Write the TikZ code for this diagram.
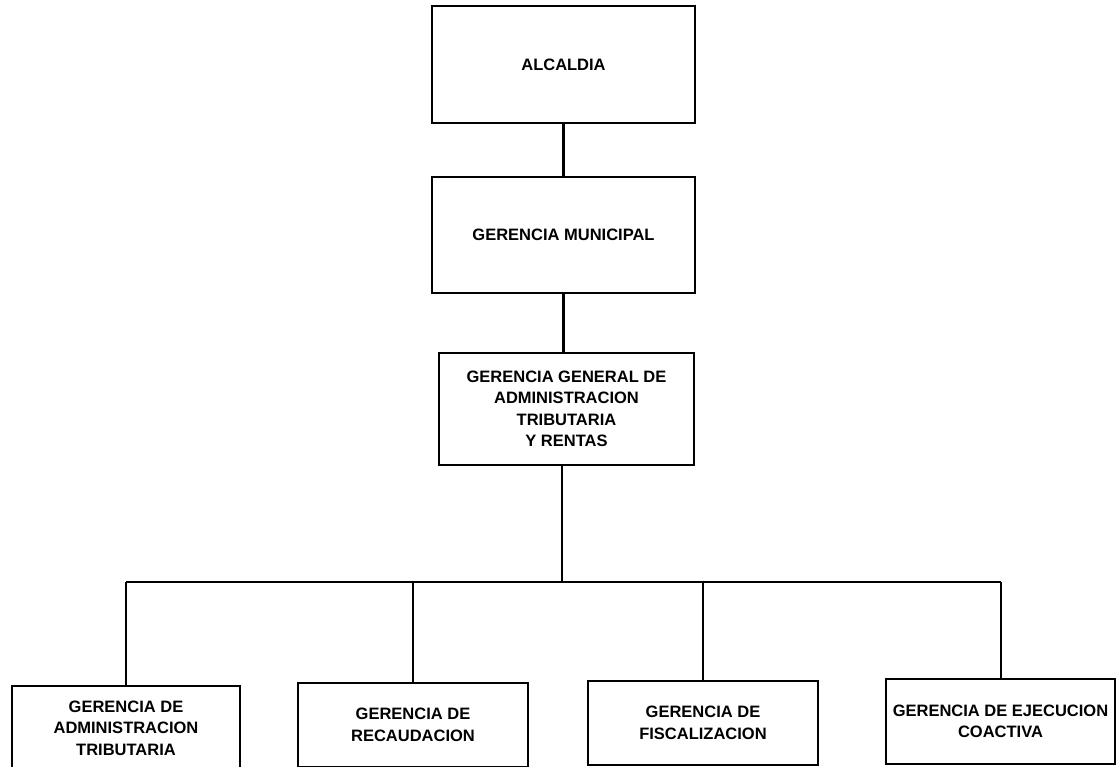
\documentclass[tikz,border=0pt]{standalone}
\usepackage{fontspec}
\setmainfont{Liberation Sans}
\usetikzlibrary{calc}

\begin{document}
\begin{tikzpicture}[x=1pt,y=-1pt,
    unidad/.style={draw,line width=2.6pt,inner sep=0pt,align=center,
        font=\bfseries\fontsize{16.5}{21.5}\selectfont},
    enlace/.style={line width=2.4pt}]
    \useasboundingbox (0,0) rectangle (1117,767);
    % niveles superiores
    \node[unidad,minimum width=263,minimum height=117] (alcaldia) at (563.5,64.5) {ALCALDIA};
    \node[unidad,minimum width=263,minimum height=116] (gmun) at (563.5,235) {GERENCIA MUNICIPAL};
    \node[unidad,minimum width=255,minimum height=112] (ggatr) at (566.5,409)
        {GERENCIA GENERAL DE\\ADMINISTRACION\\TRIBUTARIA\\Y RENTAS};
    % gerencias de linea
    \node[unidad,minimum width=228,minimum height=84] (gat) at (126,728)
        {GERENCIA DE\\ADMINISTRACION\\TRIBUTARIA};
    \node[unidad,minimum width=230,minimum height=84] (grec) at (413,725)
        {GERENCIA DE\\RECAUDACION};
    \node[unidad,minimum width=230,minimum height=84] (gfis) at (703,723)
        {GERENCIA DE\\FISCALIZACION};
    \node[unidad,minimum width=229,minimum height=85] (geje) at (1000.5,721.5)
        {GERENCIA DE EJECUCION\\COACTIVA};
    \coordinate (bus) at (562,582);
    \draw[enlace] (alcaldia.south) -- (gmun.north);
    \draw[enlace] (gmun.south) -- (gmun.south |- ggatr.north);
    \draw[enlace] (bus |- ggatr.south) -- (bus);
    \draw[enlace,line width=2pt] (gat.north |- bus) -- (geje.north |- bus);
    \foreach \g in {gat,grec,gfis,geje} {%
        \draw[enlace,line width=2pt] (\g.north) -- (\g.north |- bus);
    }
\end{tikzpicture}
\end{document}
